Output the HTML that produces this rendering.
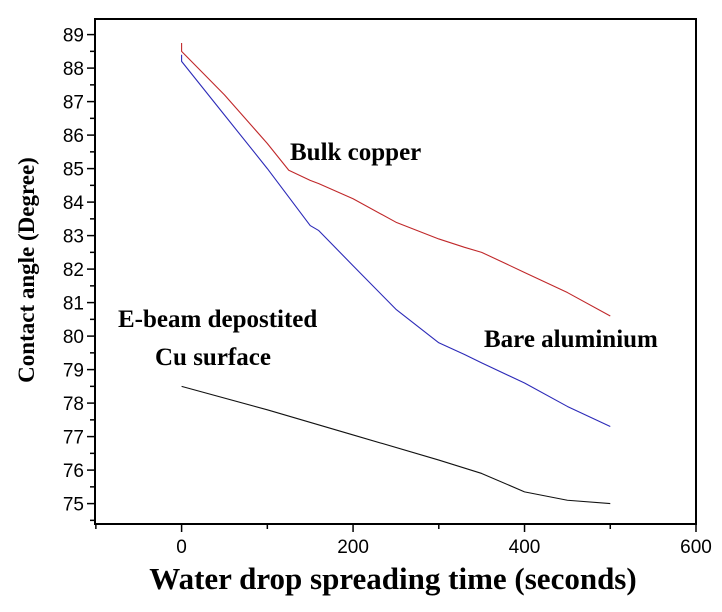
<!DOCTYPE html>
<html><head><meta charset="utf-8"><style>
body{margin:0;background:#fff;}
svg text{font-family:"Liberation Sans",sans-serif;}
.lbl{font-family:"Liberation Serif",serif;font-weight:bold;}
</style></head><body>
<svg id="chart" width="722" height="607" xmlns="http://www.w3.org/2000/svg">
<rect x="95" y="19" width="601" height="505" fill="none" stroke="#000" stroke-width="2"/>
<g id="axes"></g>
<g id="series"></g>
<text class="lbl" x="290" y="160" font-size="25">Bulk copper</text>
<text class="lbl" x="484" y="347" font-size="25">Bare aluminium</text>
<text class="lbl" x="118" y="327" font-size="25">E-beam depostited</text>
<text class="lbl" x="155" y="365" font-size="25">Cu surface</text>
<text class="lbl" x="34" y="270" font-size="23" text-anchor="middle" transform="rotate(-90 34 270)">Contact angle (Degree)</text>
<text class="lbl" x="393" y="589" font-size="31" text-anchor="middle">Water drop spreading time (seconds)</text>
</svg>
<script>
const times=[0,50,100,125,150,160,200,250,300,330,350,400,450,500];
const copper=[88.5,87.2,85.75,84.95,84.65,84.55,84.1,83.4,82.9,82.65,82.5,81.9,81.3,80.6];
const aluminium=[88.2,86.6,85.0,84.15,83.3,83.15,82.1,80.8,79.8,79.45,79.2,78.6,77.9,77.3];
const ebTimes=[0,100,200,300,350,400,450,500];
const ebeam=[78.5,77.8,77.05,76.3,75.9,75.35,75.1,75.0];
const xTicks=[0,200,400,600];
const yTicks=[75,76,77,78,79,80,81,82,83,84,85,86,87,88,89];
const NS="http://www.w3.org/2000/svg";
const X=v=>181.6+(v)*(696-181.6)/600;
const Y=v=>503.6-(v-75)*33.5;
const ax=document.getElementById('axes'),sr=document.getElementById('series');
function mk(t,a,p){const e=document.createElementNS(NS,t);for(const k in a)e.setAttribute(k,a[k]);p.appendChild(e);return e;}
for(let v=-100;v<=600;v+=100){const l=mk('line',{x1:X(v),x2:X(v),y1:524,y2:v%200===0?532:529,stroke:'#000','stroke-width':1.5},ax);

}
xTicks.forEach(v=>{const t=mk('text',{x:X(v),y:553,'font-size':19,'text-anchor':'middle'},ax);t.textContent=v;

});
for(let v=74.5;v<=89.5;v+=0.5){const y=Y(v);if(y<19||y>524)continue;const maj=v%1===0;const l=mk('line',{x1:95,x2:maj?87:90,y1:y,y2:y,stroke:'#000','stroke-width':1.5},ax);

}
yTicks.forEach(v=>{const t=mk('text',{x:84,y:Y(v)+7,'font-size':19,'text-anchor':'end'},ax);t.textContent=v;

});
function line(xs,ys,c,name,start){let d=start||'';xs.forEach((t,i)=>{d+=(d?'L':'M')+X(t)+','+Y(ys[i]);});
const p=mk('path',{d:d,fill:'none',stroke:c,'stroke-width':1.1,'stroke-linejoin':'round'},sr);

}
line(times,copper,'#c0282a','series-bulk-copper','M'+X(0)+','+Y(88.75));
line(times,aluminium,'#2c2ab8','series-bare-aluminium','M'+X(0)+','+Y(88.4));
line(ebTimes,ebeam,'#111','series-ebeam-cu');
</script>
</body></html>
